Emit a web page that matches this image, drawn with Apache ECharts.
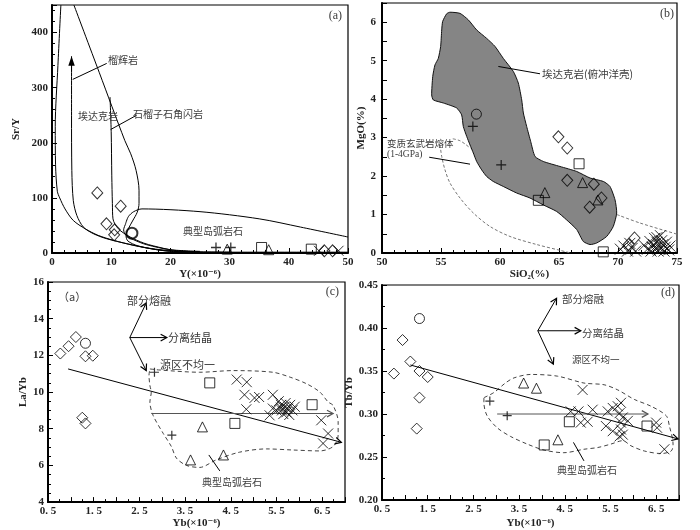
<!DOCTYPE html>
<html><head><meta charset="utf-8">
<script src="https://cdn.jsdelivr.net/npm/echarts@6/dist/echarts.min.js"></script>
<style>html,body{margin:0;padding:0;background:#fff}#c{width:700px;height:530px}</style>
</head><body><div id="c"></div>
<script>
// ---------------- Panel (a): Sr/Y vs Y ----------------
const aDiamond = [[7.65,109],[11.6,85],[9.2,53],[10.6,42],[10.5,33],[46.0,4],[47.4,4]];
const aCircle = [[13.5,36]];
const aPlus = [[27.7,10],[30.2,10]];
const aTriangle = [[29.6,7],[36.6,6]];
const aSquare = [[35.4,10],[43.8,7]];
const aCross = [[45.1,4],[48.4,4]];
const aCurve1 = [[1.5,450],[1.0,340],[0.55,230],[0.6,160],[0.9,112],[1.3,100],[2.2,80],[3.6,59],[5.6,44],[7.8,32],[10.4,23],[13.7,14],[17.7,6],[20.5,3],[25,1.5],[50,1.5]];
const aCurve2 = [[3.3,352],[3.3,250],[3.35,150],[3.6,95],[4.2,68],[5.3,47],[7,35],[9.2,26],[12.6,17],[16.6,8],[19.9,3],[25,1]];
const aCurve3 = [[9.8,283],[10.0,220],[10.1,140],[10.2,90],[10.3,62],[11.2,44],[13.2,29],[15.5,18],[17.1,13],[20.5,5],[25,2]];
const aCurve4 = [[3.7,450],[8,327],[12.3,204],[13.3,180],[14.2,150],[14.7,114],[14.7,90],[14.4,74],[13.6,58],[12.9,44],[12.5,32],[12.8,22],[14.5,13],[17.5,7],[22,3],[30,1.5]];
const aCurve5 = [[12.4,52],[12.9,66],[13.8,75],[15.2,80],[25,75],[35,62],[42,47],[50,29]];
const aCurve6 = [[12.4,52],[12.1,42],[12.5,32],[13.8,24],[16,15],[20,6],[25,3]];
const aArrows = [[3.3,330,3.3,357,1,0],[3.5,315,9.24,344,2,0],[9.9,224,14.3,250,2,0]];

// ---------------- Panel (b): MgO vs SiO2 ----------------
const bCircle = [[58.0,3.61]];
const bPlus = [[57.7,3.29],[60.1,2.29]];
const bDiamond = [[64.95,3.02],[65.7,2.73],[65.7,1.89],[67.95,1.79],[68.6,1.43],[67.6,1.19],[71.4,0.39],[70.9,0.22]];
const bSquare = [[66.7,2.32],[63.25,1.37],[68.75,0.03]];
const bTriangle = [[67.0,1.83],[63.8,1.57],[68.3,1.38]];
const bCross = [[70.2,0.10],[70.5,0.18],[70.8,0.05],[71.0,0.25],[71.2,0.12],[71.5,0.05],
  [72.2,0.20],[72.5,0.10],[72.7,0.30],[72.8,0.05],[73.0,0.22],[73.1,0.38],[73.2,0.12],[73.3,0.28],
  [73.4,0.05],[73.5,0.18],[73.6,0.45],[73.6,0.10],[73.7,0.32],[73.8,0.22],[73.9,0.05],[74.0,0.15],
  [74.1,0.28],[74.3,0.08],[73.3,0.40],[72.9,0.15],[74.4,0.18]];
const bShade = [[55.76,6.26],[56.61,6.23],[57.32,6.06],[58.02,5.80],[58.87,5.58],[59.58,5.37],[60.28,5.06],
  [61.13,4.72],[61.55,4.42],[61.84,3.98],[61.98,3.64],[62.26,3.29],[62.6,2.9],[62.97,2.51],[63.67,2.38],
  [65.08,2.25],[66.5,2.12],[67.63,1.95],[68.76,1.86],[69.32,1.73],[69.75,1.38],[69.89,1.04],[69.6,0.69],
  [69.04,0.43],[68.19,0.26],[67.63,0.22],[67.06,0.30],[66.5,0.61],[65.65,0.86],[64.8,1.08],[63.67,1.25],
  [62.54,1.43],[61.41,1.56],[60.28,1.73],[59.43,1.86],[58.87,1.99],[58.45,2.16],[58.02,2.38],[57.74,2.60],
  [57.46,2.81],[57.18,3.03],[56.89,3.29],[56.75,3.59],[56.33,3.77],[55.2,3.90],[54.35,3.98],[54.21,4.11],
  [54.3,4.59],[54.49,4.89],[54.77,5.06],[54.97,5.37],[55.06,5.80],[55.14,6.02],[55.48,6.22]];
const bDash1 = [[54.92,2.81],[55.06,2.51],[55.34,2.16],[55.76,1.82],[56.61,1.43],[57.74,1.04],[59.15,0.69],[60.85,0.43],[63.11,0.22],[65.08,0.07],[66,0]];
const bDash2 = [[56.0,2.97],[56.6,2.92],[57.1,2.82],[57.5,2.72]];
const bDash3 = [[69.9,1.0],[71.86,0.78],[75,0.49]];
const bArrows = [[59.86,4.85,63.39,4.66,2,0],[54.0,2.49,57.46,2.31,2,0]];

// ---------------- Panel (c): La/Yb vs Yb ----------------
const cDiamond = [[0.77,12.1],[0.95,12.5],[1.11,13.0],[1.32,11.95],[1.48,11.98],[1.25,8.6],[1.32,8.29]];
const cCircle = [[1.32,12.66]];
const cPlus = [[2.83,11.08],[3.21,7.65]];
const cTriangle = [[3.88,8.1],[3.62,6.3],[4.34,6.57]];
const cSquare = [[4.04,10.5],[4.59,8.29],[6.28,9.31]];
const cCross = [[4.63,10.68],[4.85,10.54],[4.80,9.85],[5.02,9.68],[5.12,9.73],[5.42,9.85],[4.84,9.06],
  [5.35,8.73],[5.42,9.1],[5.55,9.5],[5.6,9.3],[5.62,9.0],[5.65,8.8],[5.68,9.2],[5.7,9.4],[5.72,8.9],
  [5.75,9.1],[5.78,8.75],[5.8,9.3],[5.85,9.0],[5.6,9.15],[5.5,9.0],[5.9,9.2],[6.48,8.46],[6.63,7.74],[6.52,7.2]];
const cField = [[2.73,11.26],[2.95,11.2],[3.82,11.08],[4.55,11.17],[5.42,11.08],[5.8,10.81],[6.16,10.45],
  [6.45,10.0],[6.63,9.46],[6.74,9.27],[6.85,8.38],[6.85,7.65],[6.74,7.03],[6.45,6.79],[5.86,6.84],[5.28,6.9],
  [4.69,6.72],[4.18,6.3],[3.82,5.89],[3.53,6.0],[3.31,6.4],[3.2,7.03],[3.02,7.75],[2.8,8.73],[2.73,9.46],
  [2.76,10.0],[2.73,10.36],[2.71,10.9],[2.73,11.26]];
const cArrows = [[0.94,11.26,6.92,7.26,0,0],[2.76,8.83,6.74,8.83,0,1],
  [2.29,12.97,2.65,14.86,0,0],[2.29,12.97,3.1,12.97,0,0],[2.29,12.97,2.65,11.17,0,0],[4.02,6.57,4.26,5.7,2,0]];

// ---------------- Panel (d): Tb/Yb vs Yb ----------------
const dCircle = [[1.32,0.411]];
const dDiamond = [[0.95,0.386],[1.12,0.361],[0.76,0.347],[1.32,0.35],[1.5,0.343],[1.32,0.319],[1.26,0.283]];
const dTriangle = [[3.6,0.336],[3.88,0.33],[4.35,0.27]];
const dSquare = [[4.05,0.264],[4.6,0.291],[6.3,0.286]];
const dPlus = [[2.86,0.315],[3.24,0.298]];
const dCross = [[4.89,0.328],[4.63,0.303],[4.8,0.303],[5.11,0.305],[4.85,0.29],[5.0,0.291],[5.44,0.303],
  [5.55,0.307],[5.66,0.309],[5.73,0.313],[5.7,0.301],[5.77,0.296],[5.88,0.292],[5.73,0.29],[5.4,0.286],
  [5.55,0.28],[5.73,0.282],[5.77,0.276],[5.7,0.274],[6.5,0.29],[6.52,0.284],[6.68,0.259]];
const dField = [[2.73,0.319],[2.95,0.325],[3.2,0.336],[3.39,0.342],[3.75,0.346],[4.34,0.344],[4.92,0.336],
  [5.36,0.334],[5.66,0.328],[6.02,0.317],[6.39,0.309],[6.72,0.298],[6.79,0.286],[6.87,0.265],[6.83,0.257],
  [6.61,0.254],[6.24,0.257],[5.95,0.263],[5.77,0.269],[5.51,0.265],[5.22,0.261],[4.92,0.259],[4.48,0.255],
  [4.05,0.258],[3.68,0.265],[3.31,0.274],[3.02,0.284],[2.8,0.298],[2.73,0.313],[2.73,0.319]];
const dArrows = [[1.12,0.357,6.98,0.271,0,0],[3.02,0.30,6.32,0.30,0,1],
  [3.91,0.3968,4.32,0.4346,0,0],[3.91,0.3968,4.85,0.3968,0,0],[3.91,0.3968,4.25,0.358,0,0],[4.69,0.267,4.92,0.2455,2,0]];

// ---------------- helpers ----------------
const SERIF = "'Liberation Serif','DejaVu Serif',serif";
const CJK = "'Noto Sans CJK SC','Noto Sans',sans-serif";
const SYM = {
  diamond:'diamond', circle:'circle', triangle:'triangle', square:'rect',
  cross:'path://M0,0L10,10M10,0L0,10', plus:'path://M5,0L5,10M0,5L10,5'
};
function sc(data, sym, size, gi, bw) {
  return {type:'scatter', xAxisIndex:gi, yAxisIndex:gi, data, symbol:SYM[sym], symbolSize:size,
    itemStyle:{color:'rgba(0,0,0,0)', borderColor:'#000', borderWidth:bw||1}, silent:true, z:6, animation:false};
}
function ln(data, gi, o) {
  o = o || {};
  return {type:'line', xAxisIndex:gi, yAxisIndex:gi, data, showSymbol:false, symbol:'none',
    smooth:(o.smooth===undefined?0.3:o.smooth), lineStyle:{color:o.color||'#000', width:o.w||1, type:o.type||'solid'},
    silent:true, z:o.z||3, animation:false};
}
function arrowRender(params, api) {
  const a = api.coord([api.value(0), api.value(1)]);
  const b = api.coord([api.value(2), api.value(3)]);
  const kind = api.value(4), ci = api.value(5);
  const col = ci === 1 ? '#555' : '#000';
  const ang = Math.atan2(b[1]-a[1], b[0]-a[0]);
  const L = kind === 1 ? 10 : 7, sp = kind === 1 ? 0.33 : 0.5;
  const p1 = [b[0]-L*Math.cos(ang-sp), b[1]-L*Math.sin(ang-sp)];
  const p2 = [b[0]-L*Math.cos(ang+sp), b[1]-L*Math.sin(ang+sp)];
  const ch = [{type:'line', shape:{x1:a[0],y1:a[1],x2:b[0],y2:b[1]}, style:{stroke:col, lineWidth:1}}];
  if (kind === 0) ch.push({type:'polyline', shape:{points:[p1,b,p2]}, style:{stroke:col, fill:null, lineWidth:1.2}});
  if (kind === 1) ch.push({type:'polygon', shape:{points:[p1,b,p2]}, style:{fill:col}});
  return {type:'group', children:ch};
}
function arrows(data, gi) {
  return {type:'custom', coordinateSystem:'cartesian2d', xAxisIndex:gi, yAxisIndex:gi, data,
    renderItem:arrowRender, silent:true, z:4, clip:false, animation:false};
}
const labelStyle = {fontFamily:SERIF, fontWeight:'bold', fontSize:11, color:'#222'};
const nameStyle = {fontFamily:SERIF, fontWeight:'bold', fontSize:11, color:'#222'};
function axis(gi, min, max, interval, minorSplit, name, gap, fmt, inside, margin) {
  return {gridIndex:gi, type:'value', min, max, interval,
    axisLine:{show:true, onZero:false, lineStyle:{color:'#000', width:2}},
    axisTick:{show:true, inside:inside, length:5, lineStyle:{color:'#000', width:1}},
    minorTick:{show:minorSplit>0, splitNumber:minorSplit||1, length:3, lineStyle:{color:'#000'}},
    axisLabel:Object.assign({margin:margin, formatter:fmt, showMaxLabel:true}, labelStyle),
    splitLine:{show:false}, minorSplitLine:{show:false},
    name, nameLocation:'middle', nameGap:gap, nameTextStyle:nameStyle};
}
const halfFmt = v => { const f = Math.floor(v + 1e-9); return Math.abs(v - f - 0.5) < 1e-6 ? (f + '. 5') : ''; };
const intFmt = v => Math.abs(v - Math.round(v)) < 1e-6 ? String(Math.round(v)) : '';
const hide450 = v => v > 400 ? '' : String(v);

const grids = [
  {left:52, top:5, width:296, height:248},
  {left:382, top:3, width:295, height:250},
  {left:48, top:282, width:297, height:222},
  {left:382, top:285, width:297, height:216}
].map(g => Object.assign({show:true, borderColor:'#000', borderWidth:1.2, backgroundColor:'#fff'}, g));

const xAxes = [
  axis(0, 0, 50, 10, 5, 'Y(×10⁻⁶)', 13, v=>String(v), true, 4),
  axis(1, 50, 75, 5, 5, 'SiO₂(%)', 12, v=>String(v), true, 4),
  axis(2, 0.5, 7, 0.5, 2, 'Yb(×10⁻⁶)', 13, halfFmt, true, 4),
  axis(3, 0.5, 7, 0.5, 2, 'Yb(×10⁻⁶)', 18, halfFmt, true, 4)
];
const yAxes = [
  axis(0, 0, 450, 100, 5, 'Sr/Y', 30, hide450, true, 4),
  axis(1, 0, 6.5, 0.5, 0, 'MgO(%)', 14, intFmt, true, 6),
  axis(2, 4, 16, 2, 4, 'La/Yb', 16, v=>String(v), true, 4),
  axis(3, 0.2, 0.45, 0.05, 2, 'Tb/Yb', 15, v=>v.toFixed(2), true, 4)
];

function T(text, x, y, size, font, align) {
  return {type:'text', x, y, silent:true, z:10,
    style:{text, font:(size||10.5)+'px '+(font||CJK), fill:'#3a3a3a', align:align||'left', verticalAlign:'middle'}};
}
const annotations = [
  T('榴辉岩',108,60,10), T('埃达克岩',78,116,10), T('石榴子石角闪岩',133,114,10), T('典型岛弧岩石',183,231,10),
  T('(a)',342,16,12,SERIF,'right'),
  T('埃达克岩(俯冲洋壳)',542,74,10.5), T('变质玄武岩熔体',387,143,9.5), T('(1-4GPa)',387,154,9.5,SERIF),
  T('(b)',674,14,12,SERIF,'right'),
  T('（a）',58,297,11), T('部分熔融',127,301,11), T('分离结晶',168,338,11), T('源区不均一',160,365,11),
  T('典型岛弧岩石',202,482,10), T('(c)',339,292,12,SERIF,'right'),
  T('部分熔融',562,299,10.5), T('分离结晶',582,333,10.5), T('源区不均一',572,359,9.5),
  T('典型岛弧岩石',557,470,10), T('(d)',675,293,12,SERIF,'right')
];

const series = [
  // (a)
  ln(aCurve1,0), ln(aCurve2,0), ln(aCurve3,0), ln(aCurve4,0), ln(aCurve5,0), ln(aCurve6,0),
  arrows(aArrows,0),
  sc(aDiamond,'diamond',[11,12],0), sc(aCircle,'circle',11,0,2), sc(aPlus,'plus',10,0,1.3),
  sc(aTriangle,'triangle',10,0), sc(aSquare,'square',10,0), sc(aCross,'cross',10,0),
  // (b)
  {type:'custom', coordinateSystem:'cartesian2d', xAxisIndex:1, yAxisIndex:1, data:[bShade[0]], silent:true, z:2,
    animation:false,
    renderItem:(p, api) => ({type:'polygon', shape:{points:bShade.map(q => api.coord(q)), smooth:0.2},
      style:{fill:'#858585', stroke:'#111', lineWidth:1}})},
  ln(bDash1,1,{color:'#777', type:[3,2]}), ln(bDash2,1,{color:'#777', type:[3,2]}), ln(bDash3,1,{color:'#777', type:[3,2]}),
  arrows(bArrows,1),
  sc(bCircle,'circle',10,1), sc(bPlus,'plus',10,1,1.2), sc(bDiamond,'diamond',[11,12],1),
  sc(bSquare,'square',10,1), sc(bTriangle,'triangle',10,1), sc(bCross,'cross',11,1),
  // (c)
  ln(cField,2,{color:'#444', type:[4,3], smooth:0.3}), arrows(cArrows,2),
  sc(cDiamond,'diamond',[11,11],2), sc(cCircle,'circle',10,2), sc(cPlus,'plus',9,2,1.2),
  sc(cTriangle,'triangle',10,2), sc(cSquare,'square',10,2), sc(cCross,'cross',10,2),
  // (d)
  ln(dField,3,{color:'#444', type:[4,3], smooth:0.3}), arrows(dArrows,3),
  sc(dCircle,'circle',10,3), sc(dDiamond,'diamond',[11,11],3), sc(dTriangle,'triangle',10,3),
  sc(dSquare,'square',10,3), sc(dPlus,'plus',9,3,1.2), sc(dCross,'cross',10,3)
];

const chart = echarts.init(document.getElementById('c'), null, {renderer:'canvas'});
chart.setOption({
  backgroundColor:'#fff', animation:false,
  grid:grids, xAxis:xAxes, yAxis:yAxes, series, graphic:annotations
});
</script></body></html>
